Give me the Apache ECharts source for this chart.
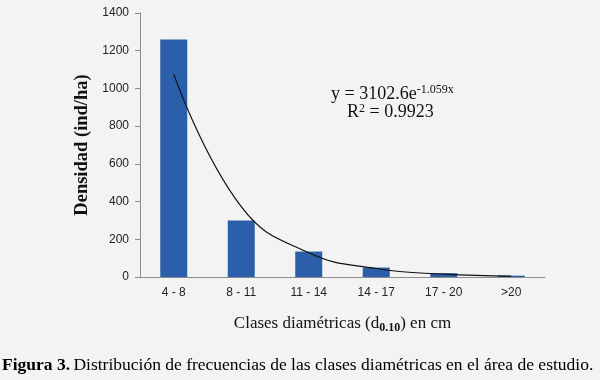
<!DOCTYPE html>
<html>
<head>
<meta charset="utf-8">
<script src="https://cdn.jsdelivr.net/npm/echarts@6/dist/echarts.min.js"></script>
<style>
  html, body { margin: 0; padding: 0; background: #f3f3f3; }
  #chart { width: 600px; height: 380px; }
</style>
</head>
<body>
<div id="chart"></div>
<script>
// clases diamétricas
const categories = ['4 - 8', '8 - 11', '11 - 14', '14 - 17', '17 - 20', '>20'];
// densidad observada (ind/ha)
const density = [1260, 300, 135, 50, 20, 7];
const trend = [1076, 373, 129, 45, 15, 5];
const yTicks = { min: 0, max: 1400, interval: 200 };

const chart = echarts.init(document.getElementById('chart'));

const serif = '"Liberation Serif", "DejaVu Serif", serif';
const sans = '"Liberation Sans", Arial, sans-serif';

const option = {
  backgroundColor: '#f3f3f3',
  animation: false,
  grid: {
    left: 140,
    right: 55,
    top: 13,
    bottom: 103
  },
  xAxis: {
    type: 'category',
    data: categories,
    axisLine: { lineStyle: { color: '#8c8c8c', width: 1 } },
    axisTick: { length: 5, lineStyle: { color: '#8c8c8c' } },
    axisLabel: { fontFamily: sans, fontSize: 12, color: '#222', margin: 10 },
    name: '{t|Clases diamétricas (d}{s|0.10}{t|) en cm}',
    nameLocation: 'middle',
    nameGap: 37,
    nameTextStyle: {
      rich: {
        t: { fontFamily: serif, fontSize: 17, color: '#111' },
        s: { fontFamily: serif, fontSize: 12, fontWeight: 'bold', color: '#111', padding: [8, 0, 0, 0] }
      }
    }
  },
  yAxis: {
    type: 'value',
    min: yTicks.min,
    max: yTicks.max,
    interval: yTicks.interval,
    axisLine: { show: true, lineStyle: { color: '#8c8c8c', width: 1 } },
    axisTick: { show: true, length: 5, lineStyle: { color: '#8c8c8c' } },
    splitLine: { show: false },
    axisLabel: { fontFamily: sans, fontSize: 12, color: '#222', margin: 11, formatter: v => String(v) },
    name: 'Densidad (ind/ha)',
    nameLocation: 'middle',
    nameGap: 47,
    nameTextStyle: { fontFamily: serif, fontSize: 18.5, fontWeight: 'bold', color: '#111' }
  },
  series: [{
    name: 'Densidad',
    type: 'bar',
    barWidth: 27,
    itemStyle: { color: '#2b5fa9' },
    data: density
  }, {
    name: 'Ajuste',
    type: 'line',
    smooth: 0.45,
    symbol: 'none',
    lineStyle: { color: '#111', width: 1.2 },
    data: trend
  }],
  graphic: [{
    type: 'text',
    left: 331,
    top: 84,
    style: {
      text: '{t|y = 3102.6e}{s|-1.059x}',
      rich: {
        t: { fontFamily: serif, fontSize: 18, fill: '#111' },
        s: { fontFamily: serif, fontSize: 12, fill: '#111', padding: [0, 0, 9, 0] }
      }
    }
  }, {
    type: 'text',
    left: 347,
    top: 103,
    style: {
      text: '{t|R}{s|2}{t| = 0.9923}',
      rich: {
        t: { fontFamily: serif, fontSize: 18, fill: '#111' },
        s: { fontFamily: serif, fontSize: 12, fill: '#111', padding: [0, 0, 7, 0] }
      }
    }
  }, {
    type: 'text',
    left: 2,
    top: 356,
    style: {
      text: '{b|Figura 3.} {t|Distribución de frecuencias de las clases diamétricas en el área de estudio.}',
      rich: {
        b: { fontFamily: serif, fontSize: 17.5, fontWeight: 'bold', fill: '#000' },
        t: { fontFamily: serif, fontSize: 17.5, fill: '#000' }
      }
    }
  }]
};

chart.setOption(option);
</script>
</body>
</html>
